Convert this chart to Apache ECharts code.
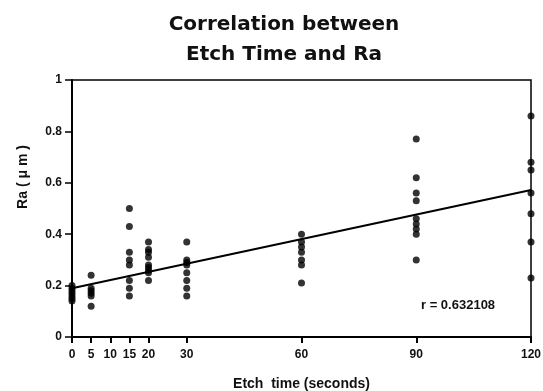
<!DOCTYPE html>
<html>
<head>
<meta charset="utf-8">
<script src="https://cdn.jsdelivr.net/npm/echarts@6/dist/echarts.min.js"></script>
<style>
  html, body { margin: 0; padding: 0; background: #fff; }
  #chart { width: 543px; height: 391px; }
</style>
</head>
<body>
<div id="chart"></div>
<script>
// Etch time (s) and the measured Ra values (µm) at each time
const etchTimes = [0, 5, 15, 20, 30, 60, 90, 120];
const raValues = [
  [0.20, 0.19, 0.18, 0.17, 0.16, 0.15, 0.14],
  [0.24, 0.19, 0.18, 0.17, 0.16, 0.12],
  [0.50, 0.43, 0.33, 0.30, 0.28, 0.22, 0.19, 0.16],
  [0.37, 0.34, 0.33, 0.31, 0.28, 0.27, 0.26, 0.25, 0.22],
  [0.37, 0.30, 0.29, 0.28, 0.25, 0.22, 0.19, 0.16],
  [0.40, 0.37, 0.35, 0.33, 0.30, 0.28, 0.21],
  [0.77, 0.62, 0.56, 0.53, 0.46, 0.44, 0.42, 0.40, 0.30],
  [0.86, 0.68, 0.65, 0.56, 0.48, 0.37, 0.23]
];
// Least-squares fit line end points (time, Ra)
const fitLine = [[0, 0.19], [120, 0.572]];
const correlationText = 'r = 0.632108';
const xTickValues = [0, 5, 10, 15, 20, 30, 60, 90, 120];
const yTickValues = [0, 0.2, 0.4, 0.6, 0.8, 1];

const points = [];
etchTimes.forEach((t, i) => raValues[i].forEach(v => points.push([t, v])));

const font = "'Liberation Sans', Arial, Helvetica, sans-serif";
const titleFont = "'DejaVu Sans', 'Liberation Sans', sans-serif";
const chart = echarts.init(document.getElementById('chart'));
chart.setOption({
  animation: false,
  backgroundColor: '#fff',
  title: {
    text: 'Correlation between\nEtch Time and Ra',
    left: 279,
    textAlign: 'center',
    top: 5,
    textStyle: { fontFamily: titleFont, fontWeight: 'bold', fontSize: 20, color: '#111', lineHeight: 30 }
  },
  grid: {
    left: 72, right: 12, top: 80, bottom: 54,
    outerBoundsMode: 'none',
    containLabel: false,
    show: true, borderColor: '#000', borderWidth: 1.5, backgroundColor: 'transparent'
  },
  xAxis: {
    type: 'value',
    min: 0, max: 120,
    name: 'Etch  time (seconds)',
    nameLocation: 'middle',
    nameGap: 40,
    nameTextStyle: { fontFamily: font, fontWeight: 'bold', fontSize: 14, color: '#111' },
    splitLine: { show: false },
    axisLine: { lineStyle: { color: '#000', width: 2 } },
    axisTick: { customValues: xTickValues, length: 6, lineStyle: { color: '#000', width: 2 } },
    axisLabel: { customValues: xTickValues, margin: 12, fontFamily: font, fontWeight: 'bold', fontSize: 12, color: '#111' }
  },
  yAxis: {
    type: 'value',
    min: 0, max: 1, interval: 0.2,
    splitLine: { show: false },
    axisLine: { lineStyle: { color: '#000', width: 2 } },
    axisTick: { customValues: yTickValues, length: 7, lineStyle: { color: '#000', width: 1.5 } },
    axisLabel: { customValues: yTickValues, margin: 10, fontFamily: font, fontWeight: 'bold', fontSize: 12, color: '#111' }
  },
  series: [
    {
      type: 'scatter',
      data: points,
      symbol: 'circle',
      symbolSize: 7,
      itemStyle: { color: '#000' }
    },
    {
      type: 'line',
      data: fitLine,
      symbol: 'none',
      lineStyle: { color: '#000', width: 2 }
    }
  ],
  graphic: [
    {
      // y-axis title, rotated
      type: 'text',
      x: 23,
      y: 177,
      rotation: Math.PI / 2,
      style: {
        text: 'Ra ( \u03bc m )', fontFamily: font, fontWeight: 'bold', fontSize: 14, fill: '#111',
        align: 'center', verticalAlign: 'middle'
      }
    },
    {
      type: 'text',
      left: 421,
      top: 299,
      style: { text: correlationText, fontFamily: font, fontWeight: 'bold', fontSize: 13, fill: '#111' }
    }
  ]
});
</script>
</body>
</html>
